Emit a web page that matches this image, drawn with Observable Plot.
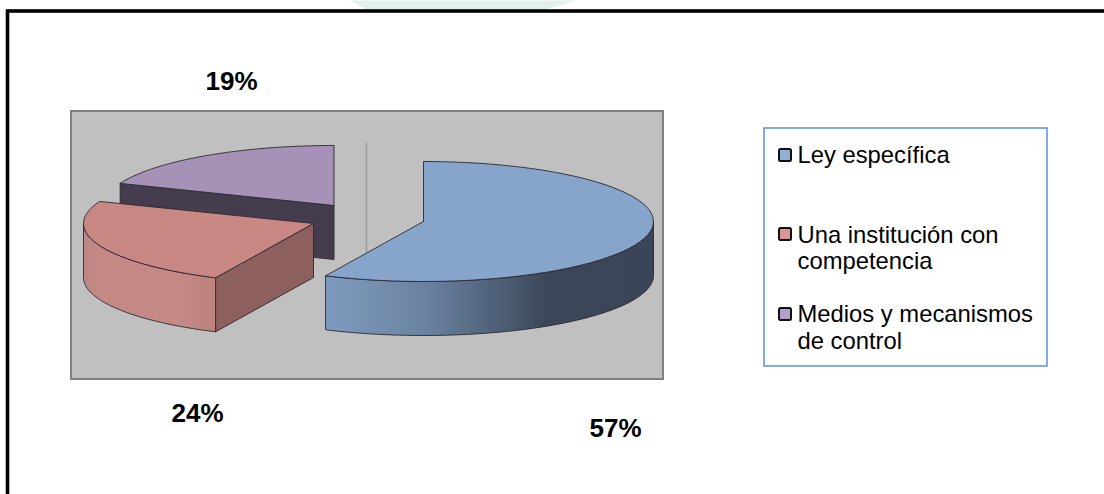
<!DOCTYPE html>
<html lang="es">
<head>
<meta charset="utf-8">
<title>Distribución de respuestas</title>
<script src="https://cdn.jsdelivr.net/npm/d3@7"></script>
<script src="https://cdn.jsdelivr.net/npm/@observablehq/plot@0.6"></script>
<style>
  html, body { margin: 0; padding: 0; background: #fff; }
  svg { display: block; }
</style>
</head>
<body>
<div id="chart"></div>
<script>
// Chart values
const categories = ["Ley específica", "Una institución con\ncompetencia", "Medios y mecanismos\nde control"];
const shares = [57, 24, 19];
const shareLabels = ["57%", "24%", "19%"];

// Colours per slice: top face, legend swatch
const topColors = ["#87a4cb", "#c88783", "#a592b6"];
const swatchColors = ["#8fafd6", "#d99694", "#b2a1c7"];

// Drawing geometry of the tilted pie
const W = 1104, H = 494;
const rx = 230, ry = 60, depth = 54;
const apexes = [[423, 221], [313, 223], [333.5, 205]];
const labelAnchors = [[615, 436], [197, 421], [231, 89]];
const legendSwatchY = [155, 234, 314];
const legendTextY = [[162], [242, 268], [321, 348]];

// Angles run clockwise from twelve o'clock
const ends = d3.cumsum(shares).map(v => v / d3.sum(shares) * 360);
const starts = [0, ...ends.slice(0, -1)];

const rad = d => d * Math.PI / 180;
const rim = (apex, deg, drop = 0) => [
  apex[0] + rx * Math.sin(rad(deg)),
  apex[1] - ry * Math.cos(rad(deg)) + drop
];
const arc = (apex, a, b, drop = 0) =>
  d3.range(0, 61).map(i => rim(apex, a + (b - a) * i / 60, drop));

const closed = ring => [...ring, ring[0]];
const topFace = i => closed([apexes[i], ...arc(apexes[i], starts[i], ends[i])]);
const outerWall = (i, a, b) => closed([...arc(apexes[i], a, b), ...arc(apexes[i], b, a, depth)]);
const cutWall = (i, deg) => {
  const p = rim(apexes[i], deg), q = apexes[i];
  return closed([p, q, [q[0], q[1] + depth], [p[0], p[1] + depth]]);
};
const toRows = ring => ring.map(([x, y]) => ({x, y}));

const shapeStroke = "#2b2933";
const face = (ring, fill) => Plot.line(toRows(ring), {
  x: "x", y: "y", fill, stroke: shapeStroke, strokeWidth: 1, strokeOpacity: 0.9, strokeLinejoin: "round"
});

// Gradients for the curved walls
const gradient = (id, stops) => () => {
  const defs = d3.create("svg:defs");
  const g = defs.append("linearGradient").attr("id", id);
  stops.forEach(([o, c]) => g.append("stop").attr("offset", o).attr("stop-color", c));
  return defs.node();
};

const font = "Liberation Sans, Arial, sans-serif";

// Scrap of the page's background emblem, showing above the frame
const emblem = [{x: 350, y: 0}, {x: 575, y: 0}, {x: 545, y: 9}, {x: 366, y: 9}, {x: 350, y: 0}];

const legendLines = categories.flatMap((c, i) =>
  c.split("\n").map((t, j) => ({t, x: 797, y: legendTextY[i][j]})));

const chart = Plot.plot({
  width: W,
  height: H,
  margin: 0,
  x: {domain: [0, W], range: [0, W], axis: null},
  y: {domain: [0, H], range: [0, H], axis: null},
  style: {background: "#fff"},
  marks: [
    gradient("wallBlue", [[0, "#7f9bbf"], [0.3, "#6b83a1"], [0.68, "#3b4759"], [1, "#3a4657"]]),
    gradient("wallRed", [[0, "#bd8683"], [0.15, "#c58985"], [0.7, "#c68a86"], [1, "#bd827e"]]),

    Plot.line(emblem, {x: "x", y: "y", fill: "#e2f1ea", stroke: "none"}),

    // Outer page frame
    Plot.rect([{}], {x1: 7.5, x2: W + 10, y1: 11, y2: H + 10, fill: "none", stroke: "#000", strokeWidth: 3.6}),

    // Chart panel
    Plot.rect([{}], {x1: 71, x2: 663, y1: 111, y2: 379, fill: "#c0c0c0", stroke: "#808080", strokeWidth: 2}),
    Plot.ruleX([366], {y1: 143, y2: 252, stroke: "#9a9a9a", strokeWidth: 1.5}),

    // Purple slice, farthest back
    face(cutWall(2, starts[2]), "#453c4e"),
    face(topFace(2), topColors[2]),

    // Red slice
    face(cutWall(1, starts[1]), "#8e605d"),
    face(outerWall(1, starts[1], 270), "url(#wallRed)"),
    face(topFace(1), topColors[1]),

    // Blue slice, nearest
    face(outerWall(0, 90, ends[0]), "url(#wallBlue)"),
    face(topFace(0), topColors[0]),

    // Percentages
    Plot.text(shareLabels, {
      x: (d, i) => labelAnchors[i][0],
      y: (d, i) => labelAnchors[i][1],
      text: d => d,
      textAnchor: "middle", lineAnchor: "bottom",
      fontFamily: font, fontWeight: "bold", fontSize: 26, fill: "#000"
    }),

    // Legend
    Plot.rect([{}], {x1: 764, x2: 1047, y1: 128, y2: 366, fill: "#fff", stroke: "#5b8fd8", strokeWidth: 1.5}),
    Plot.rect(swatchColors, {
      x1: 779, x2: 791,
      y1: (d, i) => legendSwatchY[i] - 6,
      y2: (d, i) => legendSwatchY[i] + 6,
      fill: d => d, stroke: "#111", strokeWidth: 2, rx: 1.5
    }),
    Plot.text(legendLines, {
      x: "x", y: "y", text: "t",
      textAnchor: "start", lineAnchor: "bottom",
      fontFamily: font, fontSize: 23.8, fill: "#000"
    })
  ]
});

document.getElementById("chart").append(chart);
</script>
</body>
</html>
